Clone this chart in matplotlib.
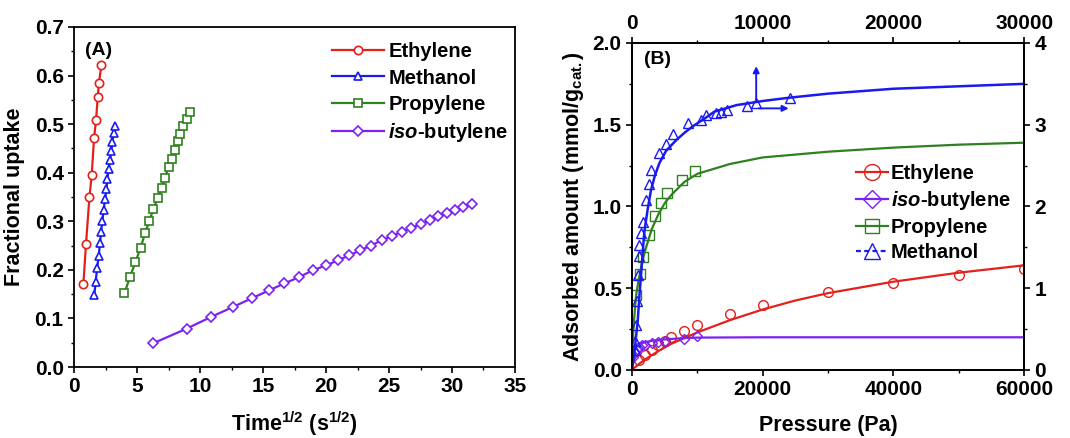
import matplotlib
matplotlib.use("Agg")
import matplotlib.pyplot as plt
from matplotlib.lines import Line2D
from matplotlib.ticker import MultipleLocator, FormatStrFormatter

plt.rcParams['font.family'] = ['Liberation Sans', 'DejaVu Sans']
plt.rcParams['font.weight'] = 'bold'
plt.rcParams['mathtext.fontset'] = 'custom'
plt.rcParams['mathtext.rm'] = 'Liberation Sans:bold'
plt.rcParams['mathtext.bf'] = 'Liberation Sans:bold'
plt.rcParams['mathtext.it'] = 'Liberation Sans:bold:italic'
plt.rcParams['mathtext.default'] = 'rm'

RED = '#e3211c'
BLUE = '#1a1aef'
GREEN = '#2f8020'
PURPLE = '#7c22ee'

# ---------------- Panel A data ----------------
ethA_x = [0.74, 0.95, 1.22, 1.40, 1.59, 1.75, 1.88, 1.98, 2.17]
ethA_y = [0.170, 0.254, 0.349, 0.395, 0.472, 0.509, 0.556, 0.585, 0.622]
metA_x = [1.61, 1.72, 1.83, 1.96, 2.06, 2.14, 2.25, 2.35, 2.46, 2.57, 2.65, 2.75,
          2.86, 2.96, 3.04, 3.15, 3.25]
metA_y = [0.149, 0.176, 0.204, 0.229, 0.255, 0.277, 0.301, 0.324, 0.345, 0.366,
          0.388, 0.408, 0.427, 0.445, 0.463, 0.481, 0.496]
proA_x = [4.00, 4.44, 4.87, 5.29, 5.63, 5.98, 6.30, 6.64, 6.96, 7.22, 7.51, 7.75,
          7.99, 8.23, 8.44, 8.68, 8.94, 9.21]
proA_y = [0.152, 0.185, 0.216, 0.246, 0.275, 0.301, 0.325, 0.348, 0.369, 0.390,
          0.412, 0.429, 0.446, 0.465, 0.480, 0.496, 0.511, 0.525]
isoA_x = [6.30, 8.94, 10.87, 12.65, 14.15, 15.50, 16.69, 17.86, 18.94, 20.00,
          20.98, 21.85, 22.70, 23.57, 24.42, 25.21, 26.00, 26.72, 27.51, 28.25,
          28.92, 29.58, 30.24, 30.90, 31.56]
isoA_y = [0.049, 0.079, 0.103, 0.124, 0.142, 0.158, 0.172, 0.185, 0.199, 0.209,
          0.220, 0.230, 0.240, 0.250, 0.261, 0.269, 0.278, 0.286, 0.294, 0.302,
          0.310, 0.317, 0.324, 0.329, 0.336]
labelsA = ['Ethylene', 'Methanol', 'Propylene', r'$\it{iso}$-butylene']

# ---------------- Panel B data ----------------
# ethylene (bottom / left axes)
ethB_P = [1000, 2000, 3000, 4000, 5000, 6000, 8000, 10000, 15000, 20000, 30000,
          40000, 50000, 60000]
ethB_q = [0.06, 0.09, 0.12, 0.15, 0.18, 0.20, 0.24, 0.275, 0.34, 0.40, 0.478,
          0.53, 0.58, 0.615]
ethB_fitP = [0, 1000, 2000, 4000, 6000, 8000, 10000, 15000, 20000, 25000, 30000,
             40000, 50000, 60000]
ethB_fitq = [0, 0.035, 0.065, 0.115, 0.16, 0.195, 0.23, 0.305, 0.37, 0.425, 0.47,
             0.54, 0.595, 0.64]
# iso-butylene (bottom / left axes)
isoB_P = [200, 400, 700, 1000, 1500, 2000, 3000, 4000, 5000, 8000, 10000]
isoB_q = [0.08, 0.11, 0.13, 0.14, 0.15, 0.155, 0.165, 0.17, 0.18, 0.19, 0.205]
isoB_fitP = [0, 100, 200, 300, 500, 1000, 2000, 3000, 5000, 8000, 10000, 20000,
             60000]
isoB_fitq = [0, 0.06, 0.10, 0.13, 0.15, 0.16, 0.17, 0.178, 0.187, 0.195, 0.198,
             0.20, 0.20]
# propylene (bottom / left axes)
proB_P = [600, 1200, 1700, 2600, 3500, 4500, 5400, 7600, 9700]
proB_q = [0.46, 0.59, 0.69, 0.825, 0.94, 1.02, 1.08, 1.16, 1.215]
proB_fitP = [0, 150, 300, 600, 1000, 1500, 2000, 3000, 4000, 5000, 6000, 8000,
             10000, 15000, 20000, 30000, 40000, 50000, 60000]
proB_fitq = [0, 0.2, 0.3, 0.45, 0.55, 0.65, 0.73, 0.86, 0.95, 1.02, 1.07, 1.15,
             1.20, 1.26, 1.30, 1.335, 1.36, 1.378, 1.39]
# methanol (top / right axes)
metB_P = [200, 255, 305, 380, 435, 510, 560, 690, 818, 1071, 1275, 1453, 2090,
          2600, 3113, 4260, 5280, 5660, 6400, 6800, 7300, 8830, 9460, 12100]
metB_q = [0.25, 0.35, 0.55, 0.84, 1.16, 1.39, 1.53, 1.67, 1.81, 2.08, 2.28, 2.45,
          2.65, 2.77, 2.89, 3.02, 3.06, 3.12, 3.14, 3.16, 3.18, 3.23, 3.27, 3.33]
metB_fitP = [0, 175, 300, 435, 560, 690, 820, 940, 1200, 1450, 1750, 2090, 2600,
             3370, 4000, 4640, 5500, 6300, 8000, 10000, 12000, 15000, 20000,
             25000, 30000]
metB_fitq = [0, 0.2, 0.4, 0.6, 0.9, 1.16, 1.45, 1.69, 1.97, 2.2, 2.38, 2.53, 2.68,
             2.81, 2.9, 2.98, 3.07, 3.16, 3.24, 3.29, 3.33, 3.38, 3.44, 3.47, 3.50]
labelsB = ['Ethylene', r'$\it{iso}$-butylene', 'Propylene', 'Methanol']

fig = plt.figure(figsize=(10.7, 4.38), dpi=100)

TICK = 15
LAB = 15.5

def style_ticks(ax, **kw):
    ax.tick_params(which='major', direction='out', length=4.5, width=1.2,
                   labelsize=TICK, pad=3, **kw)
    ax.tick_params(which='minor', direction='out', length=2.5, width=1.0, **kw)
    for s in ax.spines.values():
        s.set_linewidth(1.3)

# ---------------- Panel A ----------------
axA = fig.add_axes([0.0692, 0.1621, 0.4121, 0.7763])
mk = dict(markerfacecolor='white', markersize=6, markeredgewidth=1.2, lw=1.6)
axA.plot(ethA_x, ethA_y, '-o', color=RED, label=labelsA[0], **mk)
axA.plot(metA_x, metA_y, '-^', color=BLUE, label=labelsA[1], **mk)
axA.plot(proA_x, proA_y, '-s', color=GREEN, label=labelsA[2], **mk)
axA.plot(isoA_x, isoA_y, '-D', color=PURPLE, label=labelsA[3],
         markerfacecolor='white', markersize=5.5, markeredgewidth=1.2, lw=1.6)
axA.set_xlim(0, 35)
axA.set_ylim(0, 0.7)
axA.xaxis.set_major_locator(MultipleLocator(5))
axA.xaxis.set_minor_locator(MultipleLocator(2.5))
axA.yaxis.set_major_locator(MultipleLocator(0.1))
axA.yaxis.set_minor_locator(MultipleLocator(0.05))
axA.yaxis.set_major_formatter(FormatStrFormatter('%.1f'))
style_ticks(axA)
axA.set_xlabel(r'Time$^{1/2}$ (s$^{1/2}$)', fontsize=LAB, fontweight='bold',
               labelpad=9)
axA.set_ylabel('Fractional uptake', fontsize=LAB, fontweight='bold', labelpad=7)
axA.text(0.025, 0.955, '(A)', transform=axA.transAxes, fontsize=14,
         fontweight='bold', va='top', ha='left')
axA.legend(loc='upper right', bbox_to_anchor=(1.012, 0.99), frameon=False,
           fontsize=14.5, handlelength=2.6, handletextpad=0.2, labelspacing=0.35,
           borderaxespad=0.2)

# ---------------- Panel B ----------------
posB = [0.5907, 0.1553, 0.3664, 0.7466]
axB = fig.add_axes(posB)
mkB = dict(markerfacecolor='none', markersize=7, markeredgewidth=1.0, ls='none')
axB.plot(ethB_fitP, ethB_fitq, '-', color=RED, lw=1.6)
axB.plot(ethB_P, ethB_q, 'o', color=RED, **mkB)
axB.plot(isoB_fitP, isoB_fitq, '-', color=PURPLE, lw=1.6)
axB.plot(isoB_P, isoB_q, 'D', color=PURPLE, markerfacecolor='none',
         markersize=5.5, markeredgewidth=1.0, ls='none')
axB.plot(proB_fitP, proB_fitq, '-', color=GREEN, lw=1.6)
axB.plot(proB_P, proB_q, 's', color=GREEN, **mkB)
axB.set_xlim(0, 60000)
axB.set_ylim(0, 2.0)
axB.xaxis.set_major_locator(MultipleLocator(20000))
axB.xaxis.set_minor_locator(MultipleLocator(10000))
axB.yaxis.set_major_locator(MultipleLocator(0.5))
axB.yaxis.set_minor_locator(MultipleLocator(0.25))
axB.yaxis.set_major_formatter(FormatStrFormatter('%.1f'))
style_ticks(axB)
axB.set_xlabel('Pressure (Pa)', fontsize=LAB, fontweight='bold', labelpad=11)
axB.set_ylabel(r'Adsorbed amount (mmol/g$_{\mathregular{cat.}}$)', fontsize=LAB,
               fontweight='bold', labelpad=5)
axB.text(0.03, 0.975, '(B)', transform=axB.transAxes, fontsize=14,
         fontweight='bold', va='top', ha='left')

axM = fig.add_axes(posB, facecolor='none')
axM.plot(metB_fitP, metB_fitq, '-', color=BLUE, lw=1.8)
axM.plot(metB_P, metB_q, '^', color=BLUE, markerfacecolor='none', markersize=6.5,
         markeredgewidth=1.0, ls='none')
axM.set_xlim(0, 30000)
axM.set_ylim(0, 4)
axM.xaxis.tick_top()
axM.yaxis.tick_right()
axM.xaxis.set_major_locator(MultipleLocator(10000))
axM.xaxis.set_minor_locator(MultipleLocator(5000))
axM.yaxis.set_major_locator(MultipleLocator(1))
axM.yaxis.set_minor_locator(MultipleLocator(0.5))
style_ticks(axM)
axM.annotate('', xy=(9500, 3.75), xytext=(9500, 3.25),
             arrowprops=dict(arrowstyle='-|>', color=BLUE, lw=1.4,
                             mutation_scale=9))
axM.annotate('', xy=(12200, 3.2), xytext=(9500, 3.2),
             arrowprops=dict(arrowstyle='-|>', color=BLUE, lw=1.4,
                             mutation_scale=9))

handles = [
    Line2D([], [], color=RED, marker='o', markerfacecolor='none', markersize=11.5,
           lw=1.6),
    Line2D([], [], color=PURPLE, marker='D', markerfacecolor='none',
           markersize=9.5, lw=1.6),
    Line2D([], [], color=GREEN, marker='s', markerfacecolor='none',
           markersize=9.5, lw=1.6),
    Line2D([], [], color=BLUE, marker='^', markerfacecolor='none', markersize=11,
           lw=1.6, ls=(0, (2.2, 1.5))),
]
axB.legend(handles, labelsB, loc='upper left', bbox_to_anchor=(0.55, 0.655),
           frameon=False, fontsize=14.5, handlelength=1.6, handletextpad=0.15,
           labelspacing=0.3, borderaxespad=0)

fig.savefig('out.png', dpi=100)
